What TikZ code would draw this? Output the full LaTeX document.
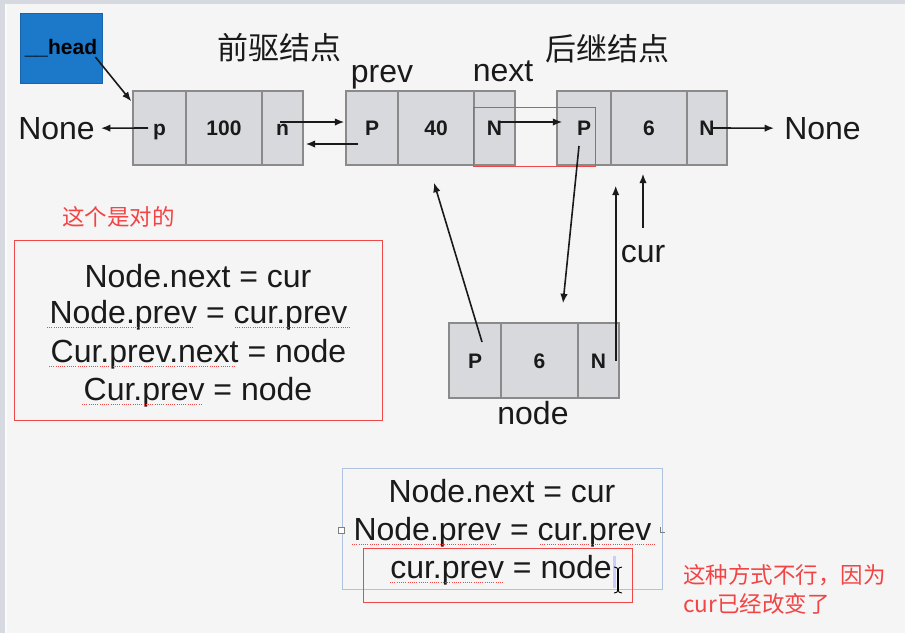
\documentclass[tikz,border=0pt]{standalone}
\usepackage{fontspec}
\setmainfont{Liberation Sans}
\newfontfamily\cjk{Noto Sans CJK SC}
\usetikzlibrary{arrows.meta,shadows}
\definecolor{bgc}{HTML}{F5F5F5}
\definecolor{edgec}{HTML}{D6DAE0}
\definecolor{cellfill}{HTML}{D7D9DC}
\definecolor{cellline}{HTML}{8A8A8A}
\definecolor{headblue}{HTML}{1C78C9}
\definecolor{headline}{HTML}{1763AD}
\definecolor{redc}{HTML}{EE4848}
\definecolor{redtext}{HTML}{F24444}
\definecolor{boxblue}{HTML}{AFC2E2}
\definecolor{txt}{HTML}{1A1A1A}
\begin{document}
\begin{tikzpicture}[x=1pt,y=-1pt,
  cell/.style={draw=cellline, fill=cellfill, line width=1.4pt, minimum height=74pt,
    inner sep=0pt, text=txt, font=\fontsize{21}{25}\selectfont\bfseries,
    text height=15pt, text depth=0pt,
    drop shadow={shadow xshift=0.8pt, shadow yshift=-1.2pt, opacity=0.25}},
  lbl/.style={inner sep=0pt, text=txt, font=\fontsize{32}{38}\selectfont},
  cjklbl/.style={inner sep=0pt, text=txt, font=\cjk\fontsize{31}{36}\selectfont},
  redlbl/.style={inner sep=0pt, text=redtext, font=\cjk\fontsize{22.5}{27}\selectfont},
  arr/.style={draw=txt, line width=1.6pt, -{Latex[length=9.5pt,width=7.5pt]}},
  redframe/.style={draw=redc, line width=1pt},
  spell/.style={draw=redc, line width=0.9pt, dash pattern=on 0.9pt off 1.3pt}]
% background
\useasboundingbox (0,0) rectangle (905,633);
\fill[bgc] (0,0) rectangle (905,633);
\fill[edgec] (0,0) rectangle (905,4);
\fill[edgec] (0,0) rectangle (5,633);
\fill[white!60!bgc] (5,4) rectangle (7,633);

% head
\node[draw=headline, fill=headblue, line width=0.8pt, minimum width=82pt, minimum height=70pt,
  inner sep=0pt, text=black, font=\fontsize{21}{24}\selectfont\bfseries,
  drop shadow={shadow xshift=0.8pt, shadow yshift=-1.2pt, opacity=0.25}] (head) at (61,48) {\raisebox{-3pt}{\_\_head}};

% titles
\node[cjklbl] (pre) at (279,48) {前驱结点};
\node[cjklbl] (suc) at (607.5,49) {后继结点};
\node[lbl, anchor=base] (prevlbl) at (382,82) {prev};
\node[lbl, anchor=base] (nextlbl) at (503,81) {next};

% node 1
\node[cell, minimum width=53pt] (a1) at (159.5,128) {p};
\node[cell, minimum width=76pt] (a2) at (224,128) {100};
\node[cell, minimum width=41pt] (a3) at (282.5,128) {n};
% node 2
\node[cell, minimum width=52pt] (b1) at (372,128) {P};
\node[cell, minimum width=76pt] (b2) at (436,128) {40};
\node[cell, minimum width=41pt] (b3) at (494.5,128) {N};
% node 3
\node[cell, minimum width=54pt] (c1) at (584,128) {P};
\node[cell, minimum width=76pt] (c2) at (649,128) {6};
\node[cell, minimum width=40pt] (c3) at (707,128) {N};
% new node
\node[cell, minimum width=52pt, minimum height=75pt] (d1) at (475,360.5) {P};
\node[cell, minimum width=77pt, minimum height=75pt] (d2) at (539.5,360.5) {6};
\node[cell, minimum width=41pt, minimum height=75pt] (d3) at (598.5,360.5) {N};

\node[lbl, anchor=base] (none1) at (56.5,139) {None};
\node[lbl, anchor=base] (none2) at (822.5,139) {None};
\node[lbl, anchor=base] (cur) at (643,262) {cur};
\node[lbl, anchor=base] (nodelbl) at (533,424) {node};

% red frame around N -> P
\draw[redframe] (473,107) rectangle (595,166);

% connectors
\draw[arr] ([xshift=-7pt,yshift=-9pt]head.east) -- ([xshift=-1pt,yshift=-11pt]a1.north west);
\draw[arr] ([xshift=-11.5pt]a1.center) -- ([xshift=6pt]none1.east);
\draw[arr] ([xshift=-2.5pt,yshift=6pt]a3.center) -- ([xshift=-1pt,yshift=6pt]b1.west);
\draw[arr] ([xshift=-14pt,yshift=-16pt]b1.center) -- ([xshift=2pt,yshift=-16pt]a3.east);
\draw[arr] ([xshift=5.5pt,yshift=6pt]b3.center) -- ([xshift=6pt,yshift=6pt]c1.west);
\draw[arr] ([xshift=6pt]c3.center) -- ([xshift=-10pt]none2.west);
\draw[arr] ([xshift=-5pt,yshift=-18pt]c1.center) -- ([xshift=23.5pt,yshift=19pt]d2.north);
\draw[arr] ([xshift=7pt,yshift=18.5pt]d1.center) -- ([xshift=-2pt,yshift=-17pt]b2.south);
\draw[arr] ([xshift=-4pt]d3.east) -- ([xshift=4pt,yshift=-20pt]c1.south east);
\draw[arr] ([yshift=17pt]cur.north) -- ([xshift=-6pt,yshift=-8pt]c2.south);

% left box
\node[redlbl] (ok) at (118.5,217) {这个是对的};
\draw[redframe] (14,240) rectangle (382,420);
\node[lbl, anchor=base] (l1) at (198,287) {Node.next = cur};
\node[lbl, anchor=base] (l2) at (198.5,323) {Node.prev = cur.prev};
\node[lbl, anchor=base] (l3) at (198.5,362) {Cur.prev.next = node};
\node[lbl, anchor=base] (l4) at (198,400) {Cur.prev = node};
\draw[spell] (47,327) -- (193,327);
\draw[spell] (235,327) -- (350,327);
\draw[spell] (49,366) -- (235,366);
\draw[spell] (82,404) -- (202,404);

% bottom box
\draw[draw=boxblue, line width=0.9pt] (342,468) rectangle (662,589);
\fill[white] (338,527) rectangle (344,533);
\draw[draw=gray, line width=0.5pt] (338,527) rectangle (344,533);
\draw[draw=gray, line width=0.5pt] (660,527) -- (660,532) -- (665,532);
\fill[blue!20!white] (613,556) rectangle (616,588);
\node[lbl, anchor=base] (r1) at (502,502) {Node.next = cur};
\node[lbl, anchor=base] (r2) at (502.5,540) {Node.prev = cur.prev};
\node[lbl, anchor=base] (r3) at (501,578) {cur.prev = node};
\draw[spell] (352,544) -- (497,544);
\draw[spell] (540,544) -- (655,544);
\draw[spell] (390,582) -- (503,582);
\draw[redframe] (363,548) rectangle (632,602);
% cursor
\draw[black, line width=1.1pt] (618,569) -- (618,591);
\draw[black, line width=0.9pt] (614,567) .. controls (616,567) and (618,568) .. (618,570);
\draw[black, line width=0.9pt] (622,567) .. controls (620,567) and (618,568) .. (618,570);
\draw[black, line width=0.9pt] (614,593) .. controls (616,593) and (618,592) .. (618,590);
\draw[black, line width=0.9pt] (622,593) .. controls (620,593) and (618,592) .. (618,590);

\node[redlbl, anchor=west] (bad1) at (683,575) {这种方式不行，因为};
\node[redlbl, anchor=west] (bad2) at (683,604) {cur已经改变了};
\end{tikzpicture}
\end{document}
